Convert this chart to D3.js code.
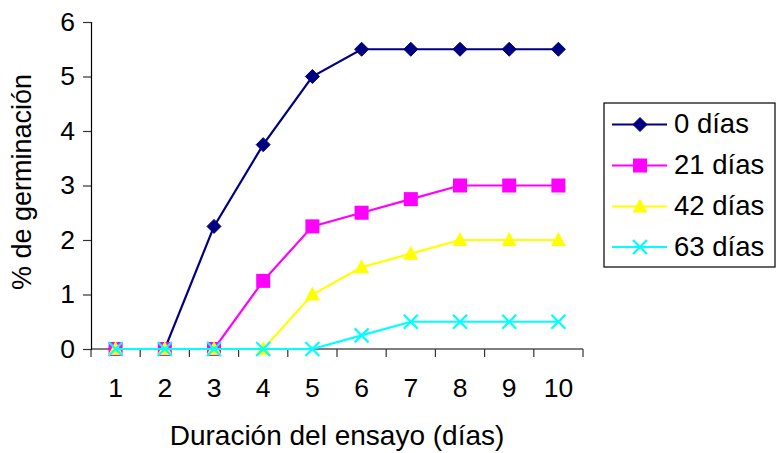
<!DOCTYPE html>
<html>
<head>
<meta charset="utf-8">
<script src="https://cdn.jsdelivr.net/npm/d3@7"></script>
<style>
  html, body { margin: 0; padding: 0; background: #fff; }
  svg { display: block; font-family: "Liberation Sans", Arial, sans-serif; }
</style>
</head>
<body>
<svg id="chart" width="776" height="453"></svg>
<script>
// Test duration (days)
const days = [1, 2, 3, 4, 5, 6, 7, 8, 9, 10];
// Germination % per storage period
const dias0  = [0, 0, 2.25, 3.75, 5, 5.5, 5.5, 5.5, 5.5, 5.5];
const dias21 = [0, 0, 0, 1.25, 2.25, 2.5, 2.75, 3, 3, 3];
const dias42 = [0, 0, 0, 0, 1, 1.5, 1.75, 2, 2, 2];
const dias63 = [0, 0, 0, 0, 0, 0.25, 0.5, 0.5, 0.5, 0.5];
const seriesNames = ["0 días", "21 días", "42 días", "63 días"];
const yTicks = [0, 1, 2, 3, 4, 5, 6];

const series = [
  { name: seriesNames[0], values: dias0,  color: "#000080", symbol: "diamond" },
  { name: seriesNames[1], values: dias21, color: "#FF00FF", symbol: "square" },
  { name: seriesNames[2], values: dias42, color: "#FFFF00", symbol: "triangle" },
  { name: seriesNames[3], values: dias63, color: "#00FFFF", symbol: "cross" }
];

const svg = d3.select("#chart");
const plotLeft = 91, plotRight = 583, plotTop = 22, plotBottom = 349;

const x = d3.scaleBand().domain(days).range([plotLeft, plotRight]).padding(0);
const y = d3.scaleLinear().domain([0, 6]).range([plotBottom, plotTop]);

// Y axis
const yAxis = svg.append("g").attr("transform", `translate(${plotLeft},0)`)
  .call(d3.axisLeft(y).tickValues(yTicks).tickSize(8).tickPadding(8).tickFormat(d3.format("d")));
yAxis.select(".domain").attr("stroke", "#000").attr("stroke-width", 1.2);
yAxis.selectAll(".tick line").attr("stroke", "#333").attr("stroke-width", 1.2);
yAxis.selectAll("text").attr("font-size", 26.5).attr("fill", "#000")
  .attr("font-family", "'Liberation Sans', Arial, sans-serif");

// X axis: ticks at category boundaries, labels at centres
const xAxisG = svg.append("g").attr("transform", `translate(0,${plotBottom})`);
xAxisG.append("line").attr("x1", plotLeft).attr("x2", plotRight).attr("y1", 0).attr("y2", 0)
  .attr("stroke", "#000").attr("stroke-width", 1.2);
const boundaries = days.map(d => x(d)).concat([x(days[days.length - 1]) + x.bandwidth()]);
xAxisG.selectAll("line.tk").data(boundaries).enter().append("line")
  .attr("class", "tk").attr("x1", d => d).attr("x2", d => d).attr("y1", 0).attr("y2", 8)
  .attr("stroke", "#333").attr("stroke-width", 1.2);
xAxisG.selectAll("text.lbl").data(days).enter().append("text")
  .attr("class", "lbl")
  .attr("x", d => x(d) + x.bandwidth() / 2).attr("y", 48)
  .attr("text-anchor", "middle").attr("font-size", 26.5).attr("fill", "#000")
  .text(d => d);

// Axis titles
svg.append("text").attr("x", 337).attr("y", 445)
  .attr("text-anchor", "middle").attr("font-size", 28).attr("fill", "#000")
  .text("Duración del ensayo (días)");
svg.append("text").attr("transform", "translate(31,182) rotate(-90)")
  .attr("text-anchor", "middle").attr("font-size", 27).attr("fill", "#000")
  .text("% de germinación");

const cx = (d) => x(d) + x.bandwidth() / 2;

function drawMarker(g, symbol, color, px, py) {
  if (symbol === "diamond") {
    g.append("path").attr("d", `M${px},${py - 7}L${px + 7},${py}L${px},${py + 7}L${px - 7},${py}Z`)
      .attr("fill", color).attr("stroke", color).attr("stroke-width", 1);
  } else if (symbol === "square") {
    g.append("rect").attr("x", px - 7).attr("y", py - 7).attr("width", 14).attr("height", 14)
      .attr("fill", color);
  } else if (symbol === "triangle") {
    g.append("path").attr("d", `M${px},${py - 8}L${px + 7.5},${py + 6}L${px - 7.5},${py + 6}Z`)
      .attr("fill", color);
  } else if (symbol === "cross") {
    g.append("path").attr("d", `M${px - 7},${py - 7}L${px + 7},${py + 7}M${px + 7},${py - 7}L${px - 7},${py + 7}`)
      .attr("stroke", color).attr("stroke-width", 2.2).attr("fill", "none");
  }
}

const line = d3.line().x((v, i) => cx(days[i])).y(v => y(v));

series.forEach(s => {
  const g = svg.append("g");
  g.append("path").attr("d", line(s.values)).attr("fill", "none")
    .attr("stroke", s.color).attr("stroke-width", 2.2);
  s.values.forEach((v, i) => drawMarker(g, s.symbol, s.color, cx(days[i]), y(v)));
});

// Legend
const lg = svg.append("g");
lg.append("rect").attr("x", 604).attr("y", 103).attr("width", 171).attr("height", 164)
  .attr("fill", "#fff").attr("stroke", "#000").attr("stroke-width", 1.2);
const legendY = [124.5, 165.5, 206.5, 247];
series.forEach((s, i) => {
  const yy = legendY[i];
  lg.append("line").attr("x1", 612).attr("x2", 667).attr("y1", yy).attr("y2", yy)
    .attr("stroke", s.color).attr("stroke-width", 2.2);
  drawMarker(lg, s.symbol, s.color, 640, yy);
  lg.append("text").attr("x", 674).attr("y", yy + 8.5).attr("font-size", 27.5).attr("fill", "#000")
    .text(s.name);
});
</script>
</body>
</html>
